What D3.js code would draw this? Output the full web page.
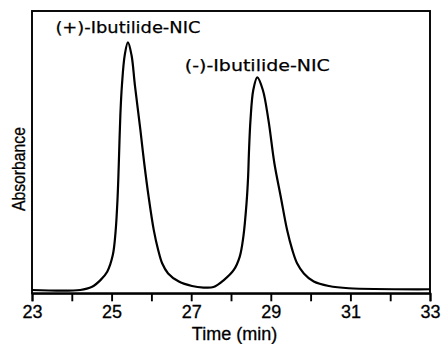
<!DOCTYPE html>
<html>
<head>
<meta charset="utf-8">
<script src="https://cdn.jsdelivr.net/npm/d3@7"></script>
<style>
  html, body { margin: 0; padding: 0; background: #fff; }
  svg { display: block; }
</style>
</head>
<body>
<div id="chart"></div>
<script>
// Chromatogram trace (time in min, absorbance in arbitrary units)
const timeMin = [
  23.00, 24.21, 24.51, 24.72, 24.89, 25.03, 25.10, 25.15, 25.18, 25.22, 25.26, 25.33,
  25.41,
  25.50, 25.585, 25.724, 25.82, 25.93, 26.06, 26.17, 26.27, 26.42, 26.69, 27.02,
  27.31, 27.56,
  27.82, 28.07, 28.22, 28.31, 28.39, 28.43, 28.45, 28.49, 28.56,
  28.66,
  28.80, 28.94, 29.09, 29.25, 29.41, 29.54, 29.66, 29.83, 30.08, 30.46, 30.96, 33.00
];
const absorbance = [
  0.000, 0.000, 0.013, 0.040, 0.074, 0.141, 0.236, 0.372, 0.505, 0.707, 0.828, 0.949,
  1.000,
  0.949, 0.828, 0.646, 0.512, 0.377, 0.242, 0.162, 0.108, 0.067, 0.034, 0.016,
  0.010, 0.012,
  0.040, 0.081, 0.135, 0.215, 0.350, 0.458, 0.552, 0.687, 0.808,
  0.859,
  0.808, 0.687, 0.512, 0.377, 0.242, 0.162, 0.108, 0.067, 0.034, 0.016, 0.007, 0.003
];

const peakNames = ['(+)-Ibutilide-NIC', '(-)-Ibutilide-NIC'];
const peakTimes = [25.41, 28.66];
const peakHeights = [1.000, 0.859];

const xTicks = [23, 24, 25, 26, 27, 28, 29, 30, 31, 32, 33];
const xTickLabels = [23, 25, 27, 29, 31, 33];

const width = 441;
const height = 344;
const margin = { top: 11, right: 11, bottom: 50.7, left: 32 };
const innerW = width - margin.left - margin.right;
const innerH = height - margin.top - margin.bottom;

const svg = d3.select('#chart').append('svg')
  .attr('width', width)
  .attr('height', height);

const g = svg.append('g')
  .attr('transform', `translate(${margin.left},${margin.top})`);

const x = d3.scaleLinear().domain([23, 33]).range([0, innerW]);
const y = d3.scaleLinear().domain([-0.0133, 1.127]).range([innerH, 0]);

// frame
g.append('rect')
  .attr('x', 0).attr('y', 0)
  .attr('width', innerW).attr('height', innerH)
  .attr('fill', 'none')
  .attr('stroke', '#000')
  .attr('stroke-width', 1.9);

// x axis: ticks every minute, labels every two
const xAxis = g.append('g')
  .attr('transform', `translate(0,${innerH})`)
  .call(d3.axisBottom(x)
    .tickValues(xTicks)
    .tickSize(8)
    .tickFormat(d => xTickLabels.includes(d) ? d : ''));

xAxis.select('.domain').attr('stroke-width', 1.9);
xAxis.selectAll('.tick line').attr('stroke-width', 1.9);
xAxis.selectAll('.tick text')
  .attr('y', 12)
  .attr('font-family', '"Liberation Sans", Arial, sans-serif')
  .attr('font-size', 18)
  .attr('fill', '#000')
  .attr('stroke', '#000')
  .attr('stroke-width', 0.3);

// trace
const pts = timeMin.map((t, i) => ({ t, a: absorbance[i] }));
const line = d3.line()
  .x(d => x(d.t))
  .y(d => y(d.a))
  .curve(d3.curveCatmullRom.alpha(0.5));

g.append('path')
  .datum(pts)
  .attr('fill', 'none')
  .attr('stroke', '#000')
  .attr('stroke-width', 2.2)
  .attr('stroke-linejoin', 'round')
  .attr('d', line);

// peak labels
g.selectAll('.peak-label')
  .data(peakNames)
  .join('text')
  .attr('class', 'peak-label')
  .attr('x', (d, i) => x(peakTimes[i]))
  .attr('y', (d, i) => y(peakHeights[i]) - (i === 0 ? 9.5 : 6.5))
  .attr('text-anchor', 'middle')
  .attr('textLength', 145)
  .attr('lengthAdjust', 'spacingAndGlyphs')
  .attr('font-family', '"DejaVu Sans", sans-serif')
  .attr('font-size', 16)
  .attr('fill', '#000')
  .attr('stroke', '#000')
  .attr('stroke-width', 0.25)
  .text(d => d);

// axis titles
svg.append('text')
  .attr('x', 234.5)
  .attr('y', 340)
  .attr('text-anchor', 'middle')
  .attr('font-family', '"Liberation Sans", Arial, sans-serif')
  .attr('font-size', 18)
  .attr('fill', '#000')
  .attr('stroke', '#000')
  .attr('stroke-width', 0.3)
  .text('Time (min)');

svg.append('text')
  .attr('transform', 'translate(25,169) rotate(-90)')
  .attr('text-anchor', 'middle')
  .attr('textLength', 84)
  .attr('lengthAdjust', 'spacingAndGlyphs')
  .attr('font-family', '"Liberation Sans", Arial, sans-serif')
  .attr('font-size', 17.5)
  .attr('fill', '#000')
  .attr('stroke', '#000')
  .attr('stroke-width', 0.3)
  .text('Absorbance');
</script>
</body>
</html>
